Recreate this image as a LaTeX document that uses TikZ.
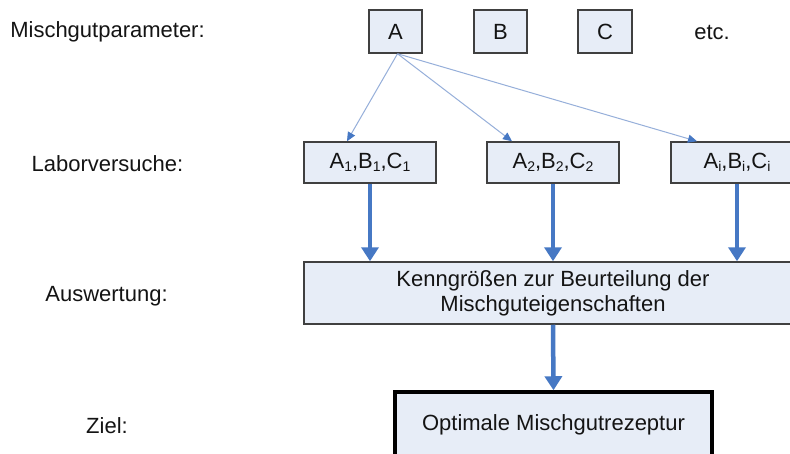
\documentclass[tikz,border=0pt]{standalone}
\usepackage{fontspec}
\setmainfont{Liberation Sans}
\usetikzlibrary{arrows.meta}
\definecolor{boxfill}{RGB}{231,237,247}
\definecolor{boxline}{RGB}{64,64,64}
\definecolor{flowblue}{RGB}{70,120,196}
\definecolor{thinblue}{RGB}{150,175,218}
\definecolor{txt}{RGB}{20,20,20}
\newcommand{\lowsub}[1]{\raisebox{-0.25ex}{\fontsize{14}{14}\selectfont #1}}
\tikzset{
  base/.style={font=\fontsize{22}{25}\selectfont, text=txt},
  label/.style={base, inner sep=0pt},
  pbox/.style={base, draw=boxline, line width=1.5pt, fill=boxfill, inner sep=0pt, minimum height=43pt},
  goalbox/.style={base, draw=black, line width=3.5pt, fill=boxfill, inner sep=0pt},
  thin arrow/.style={draw=thinblue, line width=1pt,
    -{Triangle[length=9pt,width=8pt,fill=flowblue,color=flowblue]}},
  thick arrow/.style={draw=flowblue, line width=4.5pt,
    -{Triangle[length=14pt,width=17pt,fill=flowblue,color=flowblue]}}
}
\begin{document}
\begin{tikzpicture}[x=1pt,y=-1pt]
\clip (0,0) rectangle (790,453);
\fill[white] (0,0) rectangle (790,453);

% row labels
\node[label] (l0) at (107.5,32) {Mischgutparameter:};
\node[label] (l1) at (107.5,164) {Laborversuche:};
\node[label] (l2) at (106.5,296) {Auswertung:};
\node[label] (l3) at (107,426) {Ziel:};

% parameters
\node[pbox, minimum width=53pt] (pa) at (395.5,31.5) {A};
\node[pbox, minimum width=53pt] (pb) at (500.5,31.5) {B};
\node[pbox, minimum width=54pt] (pc) at (605,31.5) {C};
\node[label] (etc) at (712,32) {etc.};

% laboratory tests
\node[pbox, minimum width=132pt, minimum height=41pt] (t1) at (370,162.5)
  {A\lowsub{1},B\lowsub{1},C\lowsub{1}};
\node[pbox, minimum width=132pt, minimum height=41pt] (t2) at (553,162.5)
  {A\lowsub{2},B\lowsub{2},C\lowsub{2}};
\node[pbox, minimum width=132pt, minimum height=41pt] (t3) at (737,162.5)
  {A\lowsub{i},B\lowsub{i},C\lowsub{i}};

% evaluation
\node[pbox, minimum width=498pt, minimum height=62pt, align=center] (ev) at (553,293)
  {Kenngrößen zur Beurteilung der\\Mischguteigenschaften};

% goal
\node[goalbox, minimum width=317pt, minimum height=66pt] (goal) at (553.5,425)
  {Optimale Mischgutrezeptur};

% connectors
\coordinate (a1) at ([xshift=-23pt]t1.north);
\coordinate (a2) at ([xshift=-41pt]t2.north);
\coordinate (a3) at ([xshift=-40pt]t3.north);
\draw[thin arrow] ([xshift=2pt]pa.south) -- (a1);
\draw[thin arrow] ([xshift=2pt]pa.south) -- (a2);
\draw[thin arrow] ([xshift=2pt]pa.south) -- (a3);

\draw[thick arrow] (t1.south) -- (t1.south |- ev.north);
\draw[thick arrow] (t2.south) -- (t2.south |- ev.north);
\draw[thick arrow] (t3.south) -- (t3.south |- ev.north);
\draw[thick arrow] (ev.south) -- (goal.north);
\end{tikzpicture}
\end{document}
